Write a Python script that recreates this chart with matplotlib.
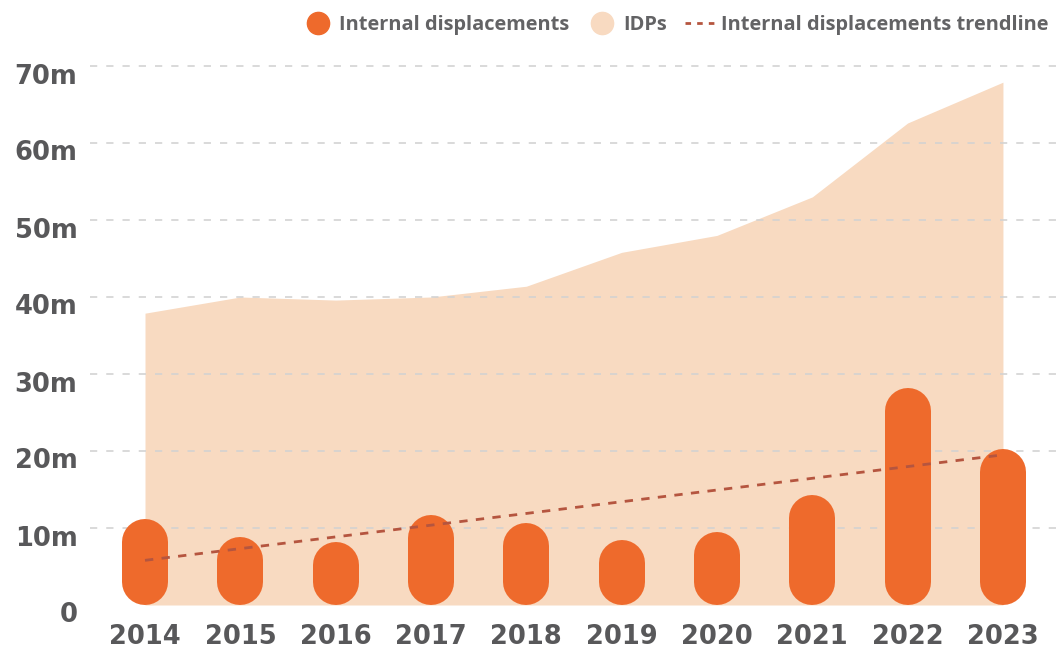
import matplotlib
matplotlib.use("Agg")
import matplotlib.pyplot as plt
from matplotlib.lines import Line2D
from matplotlib.transforms import ScaledTranslation
import numpy as np

years = ["2014", "2015", "2016", "2017", "2018", "2019", "2020", "2021", "2022", "2023"]
internal_displacements = [11.2, 8.8, 8.2, 11.7, 10.6, 8.4, 9.5, 14.3, 28.2, 20.3]
idps = [37.9, 40.0, 39.6, 40.0, 41.4, 45.8, 48.0, 53.0, 62.6, 67.9]
trend_years = ["2014", "2023"]
trend_values = [5.8, 19.5]
y_ticks = [0, 10, 20, 30, 40, 50, 60, 70]
y_tick_labels = ["0", "10m", "20m", "30m", "40m", "50m", "60m", "70m"]

ORANGE = "#EE6A2C"
PEACH = "#F8DAC1"
TREND = "#B5553F"
GRID = "#D2D2D2"
TEXT = "#58585A"
LEGTEXT = "#636365"
TICK_FONT = ["DejaVu Sans"]
LEG_FONT = ["Open Sans", "DejaVu Sans"]

W, H, DPI = 1063, 652, 100
fig = plt.figure(figsize=(W / DPI, H / DPI), dpi=DPI)
left_px, right_px, bottom_px, top_px = 90, 1063, 605, 66
ax = fig.add_axes([left_px / W, (H - bottom_px) / H, (right_px - left_px) / W, (bottom_px - top_px) / H])

x = np.arange(len(years))
ax.set_xlim(-0.577, 9.63)
ax.set_ylim(0, 70)

# area
ax.fill_between(x, 0, idps, color=PEACH, lw=0, zorder=1)

# gridlines
for t in y_ticks[1:]:
    ax.axhline(t, color=GRID, lw=1.3, ls=(0, (4, 5)), zorder=2, clip_on=False, alpha=0.9)

# pill bars
fig.canvas.draw()
px_per_unit = ax.transData.transform((0, 1))[1] - ax.transData.transform((0, 0))[1]
bar_px = 46
r = (bar_px / 2) / px_per_unit
lw_pt = bar_px * 72 / DPI
for xi, v in zip(x, internal_displacements):
    ax.plot([xi, xi], [r, v - r], color=ORANGE, lw=lw_pt, solid_capstyle="round", zorder=3)

# trendline
tx = [years.index(t) for t in trend_years]
ax.plot(tx, trend_values, color=TREND, lw=2, ls=(0, (3, 3)), zorder=4)

# axes styling
for s in ax.spines.values():
    s.set_visible(False)
ax.set_xticks(x)
ax.set_xticklabels(years)
ax.set_yticks(y_ticks)
ax.set_yticklabels(y_tick_labels)
ax.tick_params(axis="both", length=0, labelcolor=TEXT)
ax.tick_params(axis="x", pad=14)
ax.tick_params(axis="y", pad=9)
for lab in ax.get_xticklabels() + ax.get_yticklabels():
    lab.set_fontfamily(TICK_FONT)
    lab.set_fontweight("bold")
    lab.set_fontsize(18.5)
off = ScaledTranslation(0, -0.075, fig.dpi_scale_trans)
for lab in ax.get_yticklabels():
    lab.set_transform(lab.get_transform() + off)

# legend
handles = [
    Line2D([], [], ls="none", marker="o", ms=16, color=ORANGE),
    Line2D([], [], ls="none", marker="o", ms=16, color=PEACH),
    Line2D([], [], color=TREND, lw=2, ls=(0, (2, 2.2))),
]
labels = ["Internal displacements", "IDPs", "Internal displacements trendline"]
leg = fig.legend(handles, labels, loc="upper right", bbox_to_anchor=(1.003, 1.004), ncol=3,
                 frameon=False, handletextpad=0.3, columnspacing=0.9, handlelength=1.5,
                 prop={"family": LEG_FONT, "weight": "bold", "size": 14.4})
for t in leg.get_texts():
    t.set_color(LEGTEXT)

fig.savefig("out.png", dpi=DPI)
